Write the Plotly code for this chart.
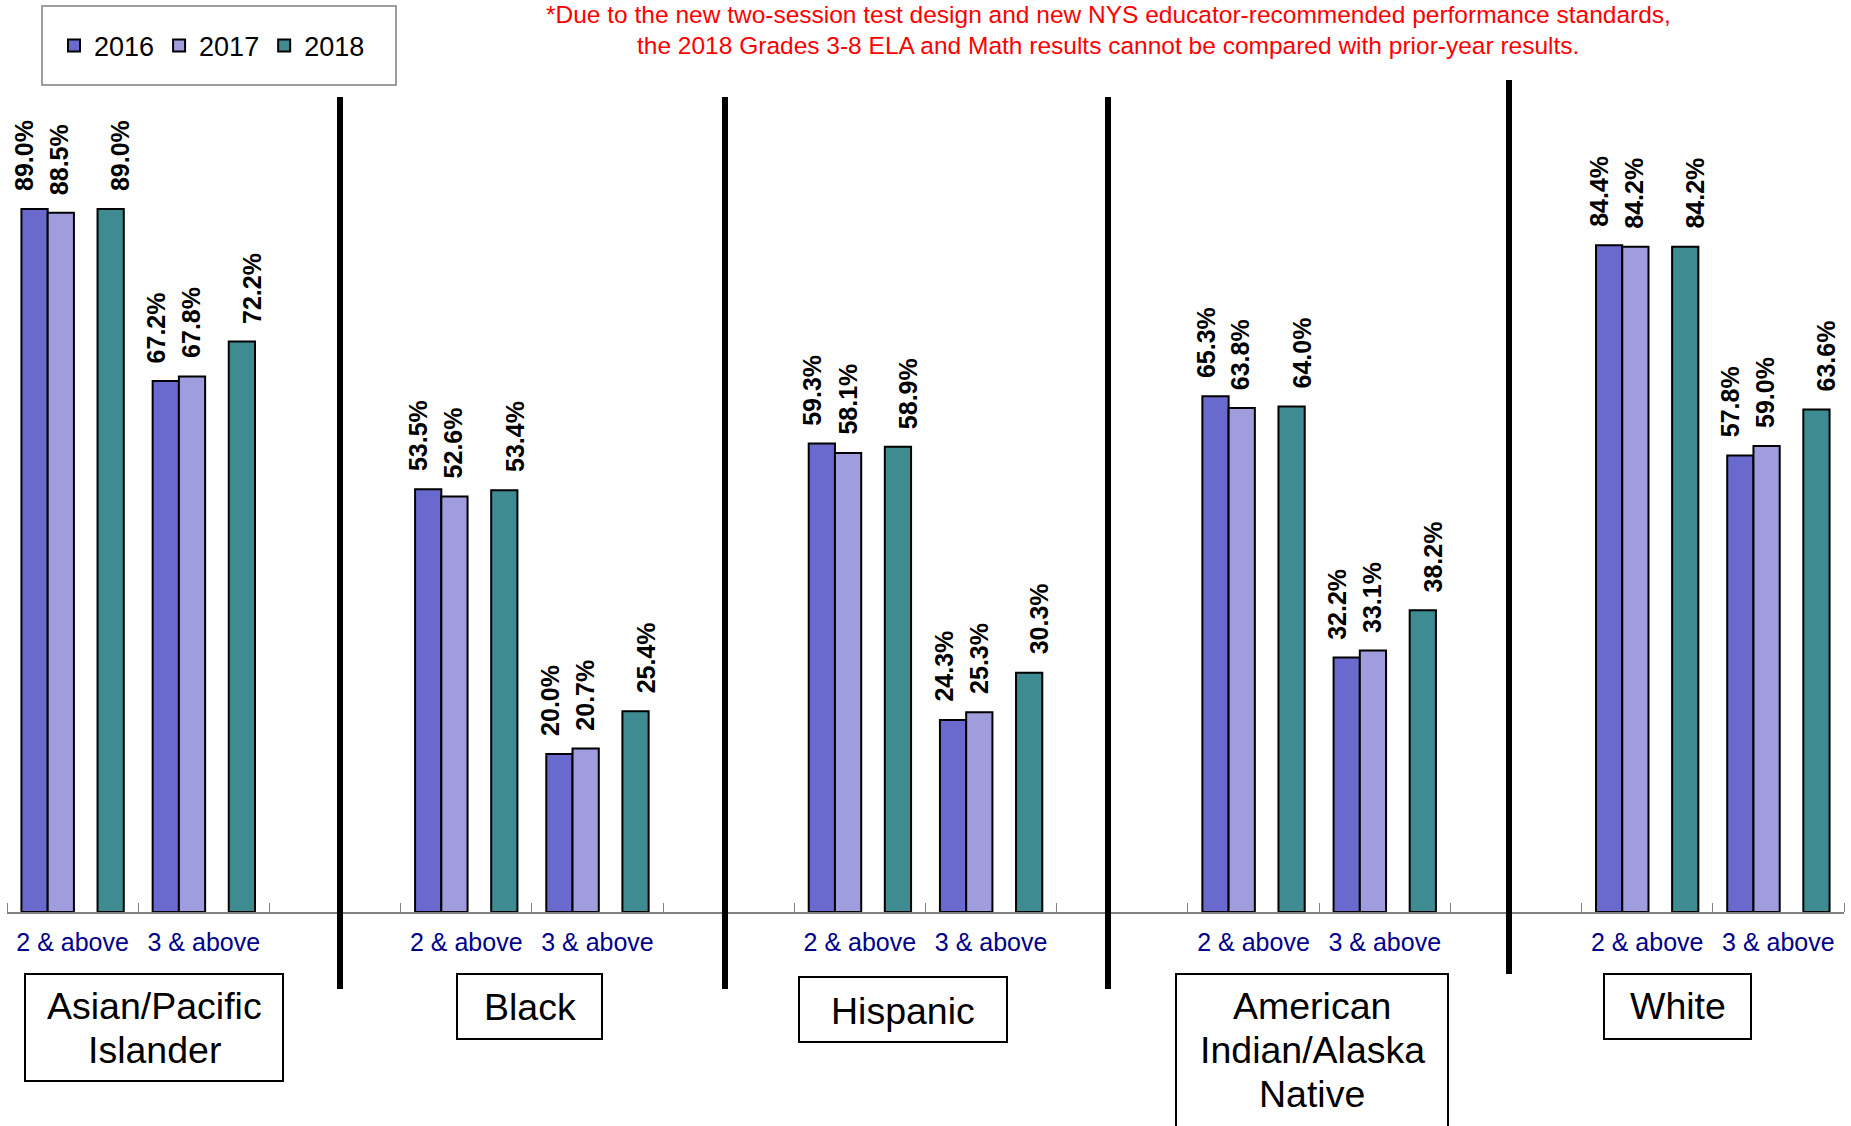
import plotly.graph_objects as go

# ---------------- data ----------------
groups = [["Asian/Pacific", "Islander"], ["Black"], ["Hispanic"],
          ["American", "Indian/Alaska", "Native"], ["White"]]
levels = ["2 & above", "3 & above"]
years = ["2016", "2017", "2018"]
v2016 = [89.0, 67.2, 53.5, 20.0, 59.3, 24.3, 65.3, 32.2, 84.4, 57.8]
v2017 = [88.5, 67.8, 52.6, 20.7, 58.1, 25.3, 63.8, 33.1, 84.2, 59.0]
v2018 = [89.0, 72.2, 53.4, 25.4, 58.9, 30.3, 64.0, 38.2, 84.2, 63.6]
note_lines = [
    "*Due to the new two-session test design and new NYS educator-recommended performance standards,",
    "the 2018 Grades 3-8 ELA and Math results cannot be compared with prior-year results.",
]

# ---------------- layout constants (pixels) ----------------
W, H = 1851, 1126
ML, MR, MT, MB = 7, 7, 122, 214
PW, PH = W - ML - MR, H - MT - MB


def px(x):
    """page x pixel -> paper fraction"""
    return (x - ML) / PW


def py(y):
    """page y pixel -> paper fraction"""
    return (H - MB - y) / PH


colors = ["#6A6ACE", "#A09DDE", "#3E8C91"]
offsets = [-0.39, -0.19, 0.19]
label_xshift = [-10, -1, 10]
series = [v2016, v2017, v2018]

# slot positions: two categories per group, then an empty spacer slot
xpos = [3 * g + l for g in range(len(groups)) for l in range(len(levels))]
xtext = [levels[l] for g in range(len(groups)) for l in range(len(levels))]

fig = go.Figure()
for yr, vals, col, off in zip(years, series, colors, offsets):
    fig.add_trace(go.Bar(
        x=xpos, y=vals, name=yr, width=0.2, offset=off,
        marker=dict(color=col, line=dict(color="black", width=2)),
    ))

annotations = []
# data labels
for vals, off, xs in zip(series, offsets, label_xshift):
    for x, v in zip(xpos, vals):
        annotations.append(dict(
            x=x + off + 0.1, y=v, xref="x", yref="y",
            text=f"{v:.1f}%", textangle=-90, showarrow=False,
            xanchor="center", yanchor="bottom", yshift=16, xshift=xs,
            font=dict(family="Liberation Sans, Arial, sans-serif", size=25,
                      color="black", weight="bold"),
        ))

# red note
for i, line in enumerate(note_lines):
    annotations.append(dict(
        x=px(1108), y=py(15 + 31 * i), xref="paper", yref="paper",
        text=line, showarrow=False, xanchor="center", yanchor="middle",
        font=dict(family="Liberation Sans, Arial, sans-serif",
                  size=24.5, color="#FF0000"),
    ))

# group label boxes (page pixel boxes: x0, y0, x1, y1) and first-line centres
group_boxes = [(25, 974, 283, 1081), (457, 974, 602, 1039), (799, 977, 1007, 1042),
               (1176, 974, 1448, 1160), (1604, 974, 1751, 1039)]
group_text_y = [1006, 1007, 1011, 1006, 1006]
LINE = 44
shapes = []
for lines, (x0, y0, x1, y1), ty in zip(groups, group_boxes, group_text_y):
    shapes.append(dict(type="rect", xref="paper", yref="paper",
                       x0=px(x0), x1=px(x1), y0=py(y0), y1=py(y1),
                       line=dict(color="black", width=2), fillcolor="rgba(0,0,0,0)"))
    for k, t in enumerate(lines):
        annotations.append(dict(
            x=px((x0 + x1) / 2), y=py(ty + LINE * k), xref="paper", yref="paper",
            text=t, showarrow=False, xanchor="center", yanchor="middle",
            font=dict(family="Liberation Sans, Arial, sans-serif", size=37.5,
                      color="black"),
        ))

# separators between groups
for sx, sy0, sy1 in [(340, 97, 989), (725, 97, 989), (1108, 97, 989), (1509, 80, 974)]:
    shapes.append(dict(type="line", xref="paper", yref="paper",
                       x0=px(sx), x1=px(sx), y0=py(sy0), y1=py(sy1),
                       line=dict(color="black", width=6)))

# legend box
shapes.append(dict(type="rect", xref="paper", yref="paper",
                   x0=px(42), x1=px(396), y0=py(6), y1=py(85),
                   line=dict(color="#7F7F7F", width=1.5), fillcolor="rgba(0,0,0,0)"))

fig.update_layout(
    width=W, height=H,
    margin=dict(l=ML, r=MR, t=MT, b=MB),
    paper_bgcolor="white", plot_bgcolor="white",
    barmode="overlay",
    showlegend=True,
    legend=dict(orientation="h", x=px(54), xanchor="left", y=py(46), yanchor="middle",
                font=dict(family="Liberation Sans, Arial, sans-serif", size=27, color="black"),
                bgcolor="rgba(0,0,0,0)", itemwidth=30, traceorder="normal"),
    xaxis=dict(range=[-0.5, 13.5], tickmode="array", tickvals=xpos, ticktext=xtext,
               ticks="", showline=True, linecolor="#808080", linewidth=1.5,
               showgrid=False, zeroline=False, ticklabelstandoff=7,
               tickfont=dict(family="Liberation Sans, Arial, sans-serif", size=25,
                             color="#00008B"),
               minor=dict(tickvals=[k - 0.5 for k in range(15)], ticks="inside",
                          ticklen=9, tickcolor="#808080", tickwidth=1, showgrid=False)),
    yaxis=dict(range=[0, 100], visible=False),
    shapes=shapes,
    annotations=annotations,
)

# remove the browser's default 8px body margin so the figure sits at the page origin
fig.write_html("out.html",
               config={"displayModeBar": False},
               post_script="document.body.style.margin='0px';document.body.style.overflow='hidden';")
